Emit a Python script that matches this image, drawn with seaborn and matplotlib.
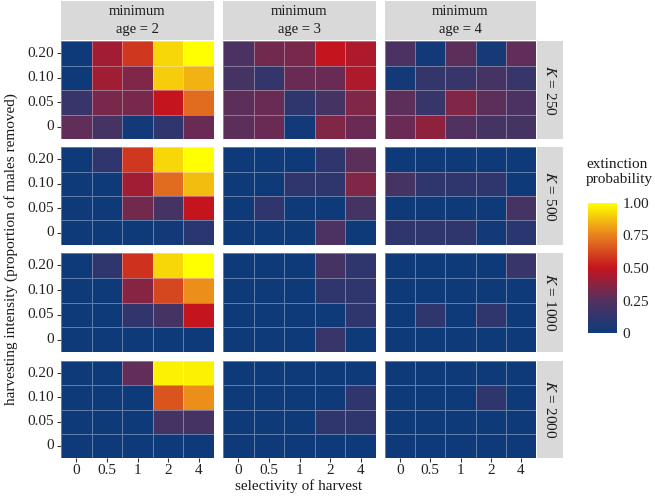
import numpy as np
import pandas as pd
import matplotlib
matplotlib.use("Agg")
import matplotlib.pyplot as plt
from matplotlib.colors import LinearSegmentedColormap
import seaborn as sns

sns.set_theme(style="white")
plt.rcParams['font.family'] = ['Liberation Serif', 'DejaVu Serif']
plt.rcParams['mathtext.fontset'] = 'stix'

selectivity = ["0", "0.5", "1", "2", "4"]
intensity = ["0.20", "0.10", "0.05", "0"]   # top to bottom
min_ages = [2, 3, 4]
K_values = [250, 500, 1000, 2000]

# extinction probability; rows = intensity (0.20, 0.10, 0.05, 0), cols = selectivity
ext_K250_a2 = [[0.00, 0.42, 0.58, 0.92, 1.00],
               [0.00, 0.42, 0.35, 0.90, 0.85],
               [0.15, 0.33, 0.33, 0.50, 0.70],
               [0.28, 0.20, 0.02, 0.12, 0.30]]
ext_K250_a3 = [[0.22, 0.32, 0.33, 0.50, 0.45],
               [0.20, 0.14, 0.30, 0.30, 0.45],
               [0.27, 0.30, 0.12, 0.20, 0.35],
               [0.27, 0.30, 0.02, 0.35, 0.30]]
ext_K250_a4 = [[0.22, 0.02, 0.27, 0.03, 0.28],
               [0.02, 0.14, 0.15, 0.20, 0.15],
               [0.27, 0.15, 0.35, 0.27, 0.22],
               [0.30, 0.38, 0.24, 0.20, 0.20]]
ext_K500_a2 = [[0.00, 0.12, 0.58, 0.92, 1.00],
               [0.00, 0.00, 0.42, 0.70, 0.87],
               [0.00, 0.00, 0.32, 0.20, 0.50],
               [0.00, 0.00, 0.00, 0.02, 0.10]]
ext_K500_a3 = [[0.00, 0.00, 0.00, 0.12, 0.27],
               [0.00, 0.00, 0.12, 0.12, 0.35],
               [0.00, 0.12, 0.00, 0.00, 0.20],
               [0.00, 0.00, 0.00, 0.22, 0.00]]
ext_K500_a4 = [[0.00, 0.00, 0.00, 0.00, 0.00],
               [0.20, 0.12, 0.12, 0.12, 0.00],
               [0.00, 0.00, 0.00, 0.00, 0.20],
               [0.12, 0.12, 0.12, 0.02, 0.10]]
ext_K1000_a2 = [[0.00, 0.12, 0.57, 0.92, 1.00],
                [0.00, 0.00, 0.36, 0.62, 0.78],
                [0.00, 0.00, 0.13, 0.20, 0.50],
                [0.00, 0.00, 0.00, 0.00, 0.00]]
ext_K1000_a3 = [[0.00, 0.00, 0.00, 0.20, 0.12],
                [0.00, 0.00, 0.00, 0.12, 0.12],
                [0.00, 0.00, 0.00, 0.00, 0.12],
                [0.00, 0.00, 0.00, 0.15, 0.00]]
ext_K1000_a4 = [[0.00, 0.00, 0.00, 0.00, 0.15],
                [0.00, 0.00, 0.00, 0.00, 0.00],
                [0.00, 0.12, 0.00, 0.12, 0.00],
                [0.00, 0.00, 0.00, 0.00, 0.00]]
ext_K2000_a2 = [[0.00, 0.00, 0.28, 0.97, 0.97],
                [0.00, 0.00, 0.00, 0.65, 0.78],
                [0.00, 0.00, 0.00, 0.20, 0.20],
                [0.00, 0.00, 0.00, 0.00, 0.00]]
ext_K2000_a3 = [[0.00, 0.00, 0.00, 0.00, 0.00],
                [0.00, 0.00, 0.00, 0.00, 0.12],
                [0.00, 0.00, 0.00, 0.12, 0.12],
                [0.00, 0.00, 0.00, 0.00, 0.00]]
ext_K2000_a4 = [[0.00, 0.00, 0.00, 0.00, 0.00],
                [0.00, 0.00, 0.00, 0.12, 0.00],
                [0.00, 0.00, 0.00, 0.00, 0.00],
                [0.00, 0.00, 0.00, 0.00, 0.00]]

panels = [[ext_K250_a2, ext_K250_a3, ext_K250_a4],
          [ext_K500_a2, ext_K500_a3, ext_K500_a4],
          [ext_K1000_a2, ext_K1000_a3, ext_K1000_a4],
          [ext_K2000_a2, ext_K2000_a3, ext_K2000_a4]]

cmap = LinearSegmentedColormap.from_list(
    "ext", [(0.0, "#0f3a7a"), (0.25, "#53315f"), (0.5, "#c4141f"),
            (0.75, "#e8801e"), (1.0, "#ffff00")])

W, H = 655, 496
fig = plt.figure(figsize=(W / 100, H / 100), dpi=100)

col_x = [(61, 214), (223, 376), (385, 536)]
row_y = [(41, 139), (147, 245), (253, 352), (361, 458)]
strip_grey = "#d9d9d9"

def fr(x0, y0, x1, y1):
    return [x0 / W, 1 - y1 / H, (x1 - x0) / W, (y1 - y0) / H]

cax = fig.add_axes(fr(588, 203, 617, 333))

for r, (y0, y1) in enumerate(row_y):
    for c, (x0, x1) in enumerate(col_x):
        ax = fig.add_axes(fr(x0, y0, x1, y1))
        df = pd.DataFrame(panels[r][c], index=intensity, columns=selectivity)
        first = (r == 0 and c == 0)
        sns.heatmap(df, ax=ax, cmap=cmap, vmin=0, vmax=1,
                    linewidths=0.6, linecolor=(1, 1, 1, 0.35),
                    cbar=first, cbar_ax=cax if first else None)
        ax.set_xlabel("")
        ax.set_ylabel("")
        ax.tick_params(axis='both', length=3, width=0.8, color="#333333",
                       labelsize=11, pad=2, labelcolor="#222222")
        if c == 0:
            ax.set_yticklabels(intensity, rotation=0)
            ax.tick_params(axis='y', left=True)
        else:
            ax.set_yticks([])
        if r == len(row_y) - 1:
            ax.set_xticklabels(selectivity, rotation=0)
            ax.tick_params(axis='x', bottom=True, pad=1.5)
        else:
            ax.set_xticks([])
        for s in ax.spines.values():
            s.set_visible(False)

# top strips
for c, (x0, x1) in enumerate(col_x):
    sax = fig.add_axes(fr(x0, 1, x1, 40))
    sax.set_facecolor(strip_grey)
    sax.set_xticks([]); sax.set_yticks([])
    for s in sax.spines.values():
        s.set_visible(False)
    sax.text(0.5, 0.5, f"minimum\nage = {min_ages[c]}", ha="center", va="center",
             fontsize=10.5, color="#1a1a1a", linespacing=1.5, transform=sax.transAxes)

# right strips
for r, (y0, y1) in enumerate(row_y):
    sax = fig.add_axes(fr(537, y0, 563, y1))
    sax.set_facecolor(strip_grey)
    sax.set_xticks([]); sax.set_yticks([])
    for s in sax.spines.values():
        s.set_visible(False)
    sax.text(0.5, 0.5, f"$K$ = {K_values[r]}", ha="center", va="center",
             rotation=270, fontsize=11, color="#1a1a1a", transform=sax.transAxes)

# colorbar styling
cax.set_yticks([0, 0.25, 0.5, 0.75, 1.0])
cax.set_yticklabels(["0", "0.25", "0.50", "0.75", "1.00"])
cax.yaxis.set_ticks_position('both')
cax.tick_params(axis='y', direction='in', length=5, width=0.8, color=(1, 1, 1, 0.6),
                labelsize=11, labelleft=False, labelright=True, pad=4,
                labelcolor="#222222")
cax.set_frame_on(False)
fig.text(586 / W, 1 - 172 / H, "extinction\nprobability", ha="left", va="center",
         fontsize=11, color="#1a1a1a", linespacing=1.25)

# axis labels
fig.text(((61 + 536) / 2) / W, 1 - 486 / H, "selectivity of harvest",
         ha="center", va="center", fontsize=11, color="#1a1a1a")
fig.text(11 / W, 1 - ((41 + 458) / 2) / H,
         "harvesting intensity (proportion of males removed)",
         ha="center", va="center", rotation=90, fontsize=11, color="#1a1a1a")

fig.savefig("out.png", dpi=100, facecolor="white")
